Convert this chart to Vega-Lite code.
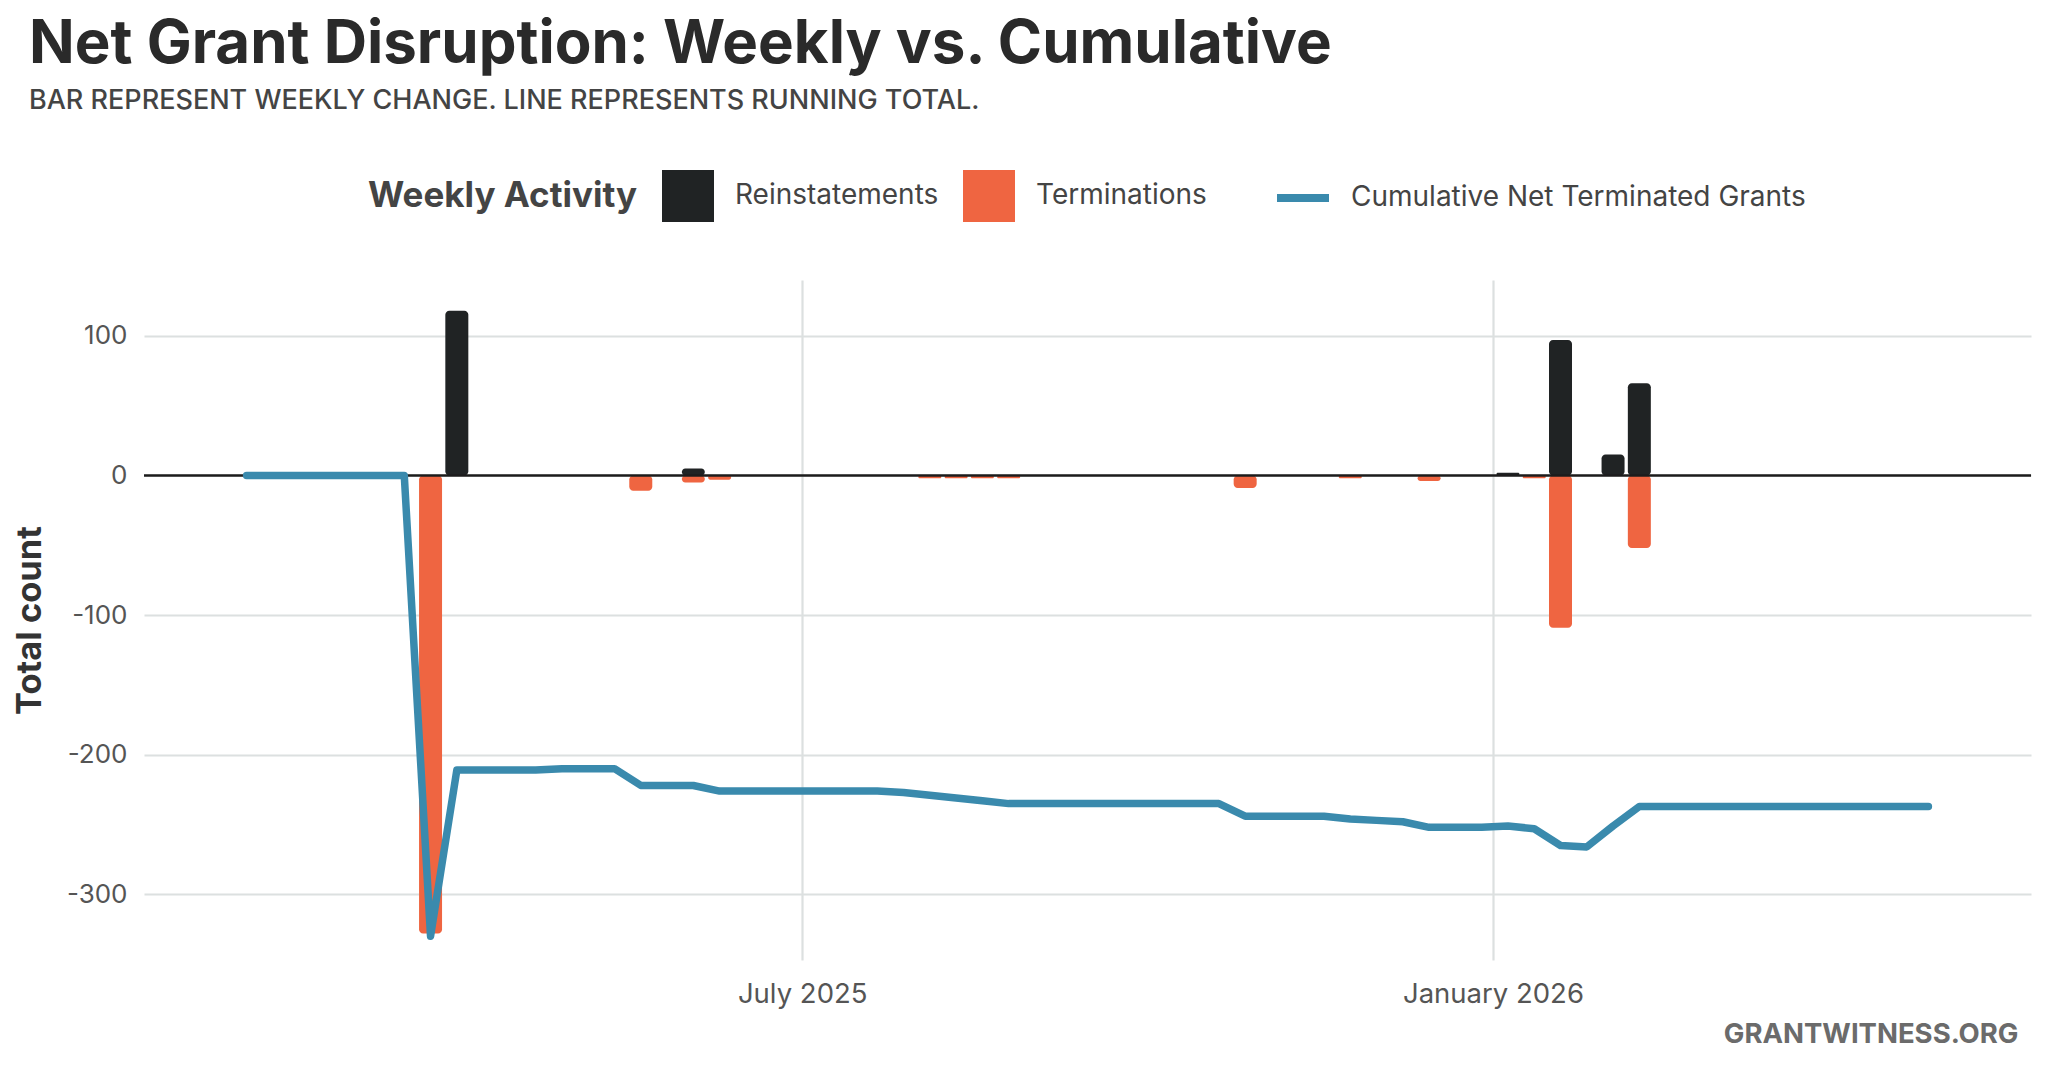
{
  "$schema": "https://vega.github.io/schema/vega-lite/v6.json",
  "width": 1887,
  "height": 680,
  "autosize": {"type": "none"},
  "padding": {"left": 144, "top": 280, "right": 17, "bottom": 110},
  "background": "white",
  "title": {
    "text": "Net Grant Disruption: Weekly vs. Cumulative",
    "subtitle": "BAR REPRESENT WEEKLY CHANGE. LINE REPRESENTS RUNNING TOTAL.",
    "anchor": "start",
    "frame": "group",
    "dx": -115,
    "offset": 53,
    "font": "Inter",
    "fontSize": 60,
    "fontWeight": 700,
    "color": "#2a2a2a",
    "subtitleFont": "Inter",
    "subtitleFontSize": 27,
    "subtitleFontWeight": 500,
    "subtitleColor": "#444444",
    "subtitlePadding": 12,
    "limit": 0
  },
  "config": {
    "view": {"stroke": null},
    "axis": {
      "domain": false,
      "ticks": false,
      "gridColor": "#DCE0E0",
      "gridWidth": 2.2,
      "labelFont": "Inter",
      "labelFontSize": 26,
      "labelColor": "#555555",
      "labelLimit": 0,
      "titleFont": "Inter"
    },
    "legend": {
      "labelFont": "Inter",
      "labelFontSize": 28,
      "labelColor": "#444444",
      "labelLimit": 0,
      "titleLimit": 0,
      "titleFont": "Inter",
      "titleFontSize": 35,
      "titleFontWeight": 700,
      "titleColor": "#444444"
    }
  },
  "datasets": {
    "bars": [
      {"date": "2025-03-24", "type": "Terminations", "value": -328},
      {"date": "2025-03-31", "type": "Reinstatements", "value": 118},
      {"date": "2025-05-19", "type": "Terminations", "value": -11},
      {"date": "2025-06-02", "type": "Reinstatements", "value": 5},
      {"date": "2025-06-02", "type": "Terminations", "value": -5},
      {"date": "2025-06-09", "type": "Terminations", "value": -3},
      {"date": "2025-08-04", "type": "Terminations", "value": -2},
      {"date": "2025-08-11", "type": "Terminations", "value": -2},
      {"date": "2025-08-18", "type": "Terminations", "value": -2},
      {"date": "2025-08-25", "type": "Terminations", "value": -2},
      {"date": "2025-10-27", "type": "Terminations", "value": -9},
      {"date": "2025-11-24", "type": "Terminations", "value": -2},
      {"date": "2025-12-15", "type": "Terminations", "value": -4},
      {"date": "2026-01-05", "type": "Reinstatements", "value": 2},
      {"date": "2026-01-12", "type": "Terminations", "value": -2},
      {"date": "2026-01-19", "type": "Reinstatements", "value": 97},
      {"date": "2026-01-19", "type": "Terminations", "value": -109},
      {"date": "2026-02-02", "type": "Reinstatements", "value": 15},
      {"date": "2026-02-09", "type": "Reinstatements", "value": 66},
      {"date": "2026-02-09", "type": "Terminations", "value": -52}
    ],
    "line": [
      {"date": "2025-02-03", "series": "Cumulative Net Terminated Grants", "value": 0},
      {"date": "2025-02-10", "series": "Cumulative Net Terminated Grants", "value": 0},
      {"date": "2025-02-17", "series": "Cumulative Net Terminated Grants", "value": 0},
      {"date": "2025-02-24", "series": "Cumulative Net Terminated Grants", "value": 0},
      {"date": "2025-03-03", "series": "Cumulative Net Terminated Grants", "value": 0},
      {"date": "2025-03-10", "series": "Cumulative Net Terminated Grants", "value": 0},
      {"date": "2025-03-17", "series": "Cumulative Net Terminated Grants", "value": 0},
      {"date": "2025-03-24", "series": "Cumulative Net Terminated Grants", "value": -330},
      {"date": "2025-03-31", "series": "Cumulative Net Terminated Grants", "value": -211},
      {"date": "2025-04-07", "series": "Cumulative Net Terminated Grants", "value": -211},
      {"date": "2025-04-14", "series": "Cumulative Net Terminated Grants", "value": -211},
      {"date": "2025-04-21", "series": "Cumulative Net Terminated Grants", "value": -211},
      {"date": "2025-04-28", "series": "Cumulative Net Terminated Grants", "value": -210},
      {"date": "2025-05-05", "series": "Cumulative Net Terminated Grants", "value": -210},
      {"date": "2025-05-12", "series": "Cumulative Net Terminated Grants", "value": -210},
      {"date": "2025-05-19", "series": "Cumulative Net Terminated Grants", "value": -222},
      {"date": "2025-05-26", "series": "Cumulative Net Terminated Grants", "value": -222},
      {"date": "2025-06-02", "series": "Cumulative Net Terminated Grants", "value": -222},
      {"date": "2025-06-09", "series": "Cumulative Net Terminated Grants", "value": -226},
      {"date": "2025-06-16", "series": "Cumulative Net Terminated Grants", "value": -226},
      {"date": "2025-06-23", "series": "Cumulative Net Terminated Grants", "value": -226},
      {"date": "2025-06-30", "series": "Cumulative Net Terminated Grants", "value": -226},
      {"date": "2025-07-07", "series": "Cumulative Net Terminated Grants", "value": -226},
      {"date": "2025-07-14", "series": "Cumulative Net Terminated Grants", "value": -226},
      {"date": "2025-07-21", "series": "Cumulative Net Terminated Grants", "value": -226},
      {"date": "2025-07-28", "series": "Cumulative Net Terminated Grants", "value": -227},
      {"date": "2025-08-04", "series": "Cumulative Net Terminated Grants", "value": -229},
      {"date": "2025-08-11", "series": "Cumulative Net Terminated Grants", "value": -231},
      {"date": "2025-08-18", "series": "Cumulative Net Terminated Grants", "value": -233},
      {"date": "2025-08-25", "series": "Cumulative Net Terminated Grants", "value": -235},
      {"date": "2025-09-01", "series": "Cumulative Net Terminated Grants", "value": -235},
      {"date": "2025-09-08", "series": "Cumulative Net Terminated Grants", "value": -235},
      {"date": "2025-09-15", "series": "Cumulative Net Terminated Grants", "value": -235},
      {"date": "2025-09-22", "series": "Cumulative Net Terminated Grants", "value": -235},
      {"date": "2025-09-29", "series": "Cumulative Net Terminated Grants", "value": -235},
      {"date": "2025-10-06", "series": "Cumulative Net Terminated Grants", "value": -235},
      {"date": "2025-10-13", "series": "Cumulative Net Terminated Grants", "value": -235},
      {"date": "2025-10-20", "series": "Cumulative Net Terminated Grants", "value": -235},
      {"date": "2025-10-27", "series": "Cumulative Net Terminated Grants", "value": -244},
      {"date": "2025-11-03", "series": "Cumulative Net Terminated Grants", "value": -244},
      {"date": "2025-11-10", "series": "Cumulative Net Terminated Grants", "value": -244},
      {"date": "2025-11-17", "series": "Cumulative Net Terminated Grants", "value": -244},
      {"date": "2025-11-24", "series": "Cumulative Net Terminated Grants", "value": -246},
      {"date": "2025-12-01", "series": "Cumulative Net Terminated Grants", "value": -247},
      {"date": "2025-12-08", "series": "Cumulative Net Terminated Grants", "value": -248},
      {"date": "2025-12-15", "series": "Cumulative Net Terminated Grants", "value": -252},
      {"date": "2025-12-22", "series": "Cumulative Net Terminated Grants", "value": -252},
      {"date": "2025-12-29", "series": "Cumulative Net Terminated Grants", "value": -252},
      {"date": "2026-01-05", "series": "Cumulative Net Terminated Grants", "value": -251},
      {"date": "2026-01-12", "series": "Cumulative Net Terminated Grants", "value": -253},
      {"date": "2026-01-19", "series": "Cumulative Net Terminated Grants", "value": -265},
      {"date": "2026-01-26", "series": "Cumulative Net Terminated Grants", "value": -266},
      {"date": "2026-02-02", "series": "Cumulative Net Terminated Grants", "value": -251},
      {"date": "2026-02-09", "series": "Cumulative Net Terminated Grants", "value": -237},
      {"date": "2026-02-16", "series": "Cumulative Net Terminated Grants", "value": -237},
      {"date": "2026-02-23", "series": "Cumulative Net Terminated Grants", "value": -237},
      {"date": "2026-03-02", "series": "Cumulative Net Terminated Grants", "value": -237},
      {"date": "2026-03-09", "series": "Cumulative Net Terminated Grants", "value": -237},
      {"date": "2026-03-16", "series": "Cumulative Net Terminated Grants", "value": -237},
      {"date": "2026-03-23", "series": "Cumulative Net Terminated Grants", "value": -237},
      {"date": "2026-03-30", "series": "Cumulative Net Terminated Grants", "value": -237},
      {"date": "2026-04-06", "series": "Cumulative Net Terminated Grants", "value": -237},
      {"date": "2026-04-13", "series": "Cumulative Net Terminated Grants", "value": -237},
      {"date": "2026-04-20", "series": "Cumulative Net Terminated Grants", "value": -237},
      {"date": "2026-04-27", "series": "Cumulative Net Terminated Grants", "value": -237}
    ]
  },
  "layer": [
    {
      "data": {"name": "bars"},
      "mark": {"type": "bar", "size": 23, "cornerRadius": 4},
      "encoding": {
        "x": {
          "field": "date", "type": "temporal", "title": "GRANTWITNESS.ORG",
          "scale": {"type": "utc", "domain": [{"year": 2025, "month": 1, "date": 8, "utc": true}, {"year": 2026, "month": 5, "date": 23, "utc": true}]},
          "axis": {
            "values": [{"year": 2025, "month": 7, "date": 1, "utc": true}, {"year": 2026, "month": 1, "date": 1, "utc": true}],
            "labelExpr": "utcFormat(datum.value, '%B %Y')",
            "labelPadding": 20,
            "labelFontSize": 27.5,
            "labelLimit": 0,
            "titleAnchor": "end", "titleAlign": "right", "titleX": 1874, "titleY": 74, "titleBaseline": "middle",
            "titleFontSize": 27.5, "titleFontWeight": 700, "titleColor": "#6b6b6b"
          }
        },
        "y": {
          "field": "value", "type": "quantitative", "title": "Total count", "stack": null,
          "scale": {"domain": [-347, 140], "nice": false, "zero": false},
          "axis": {
            "values": [-300, -200, -100, 0, 100],
            "labelExpr": "'' + datum.value",
            "labelPadding": 17,
            "titleX": -97, "titleBaseline": "bottom",
            "titleFontSize": 34.5, "titleFontWeight": 700, "titleColor": "#333333"
          }
        },
        "fill": {
          "field": "type", "type": "nominal",
          "scale": {"domain": ["Reinstatements", "Terminations"], "range": ["#202324", "#EF6541"]},
          "legend": {
            "orient": "none", "legendX": 224, "legendY": -110, "direction": "horizontal",
            "title": "Weekly Activity", "titleOrient": "left", "titleAnchor": "middle", "titleBaseline": "middle", "titlePadding": 24,
            "symbolType": "square", "symbolSize": 2704, "symbolStrokeWidth": 0, "symbolOpacity": 1,
            "labelOffset": 21, "columnPadding": 24
          }
        }
      }
    },
    {
      "data": {"values": [{"z": 0}]},
      "mark": {"type": "rule", "color": "#1c1c1c", "strokeWidth": 2.5},
      "encoding": {"y": {"datum": 0, "type": "quantitative", "title": "Total count"}}
    },
    {
      "data": {"name": "line"},
      "mark": {"type": "line", "strokeWidth": 7.5, "strokeCap": "round", "strokeJoin": "round"},
      "encoding": {
        "x": {"field": "date", "type": "temporal", "title": "GRANTWITNESS.ORG"},
        "y": {"field": "value", "type": "quantitative", "title": "Total count"},
        "stroke": {
          "field": "series", "type": "nominal",
          "scale": {"domain": ["Cumulative Net Terminated Grants"], "range": ["#3A8AAD"]},
          "legend": {
            "orient": "none", "legendX": 1129, "legendY": -112,
            "title": null, "symbolType": "stroke", "symbolSize": 2704, "symbolStrokeWidth": 8,
            "labelOffset": 18
          }
        }
      }
    }
  ]
}
